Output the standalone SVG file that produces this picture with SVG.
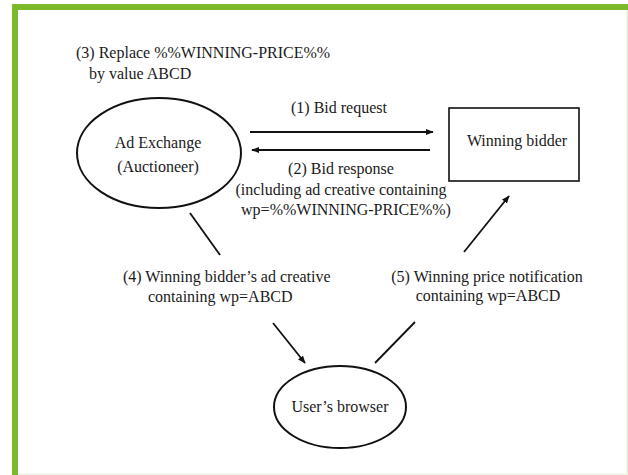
<svg xmlns="http://www.w3.org/2000/svg" width="628" height="475" viewBox="0 0 628 475">
  <style>
    .frame { fill: #7bb82a; }
    .node { fill: none; stroke: #111; stroke-width: 2; }
    .box { fill: none; stroke: #111; stroke-width: 1.6; }
    .lbl { font-family: 'Liberation Serif', 'DejaVu Serif', serif; font-size: 16px; fill: #1a1a1a; }
    .mid { text-anchor: middle; }
    .edge { stroke: #111; stroke-width: 1.8; fill: none; }
  </style>
  <defs>
    <marker id="head" viewBox="0 0 10 10" refX="9" refY="5" markerWidth="8" markerHeight="8" markerUnits="userSpaceOnUse" orient="auto">
      <path d="M0,1 L10,5 L0,9 z" fill="#111"/>
    </marker>
  </defs>

  <rect width="628" height="475" fill="#ffffff"/>
  <!-- page frame -->
  <rect class="frame" x="12" y="4" width="616" height="6"/>
  <rect class="frame" x="12" y="4" width="6" height="471"/>
  <rect x="626.5" y="10" width="1.5" height="465" fill="#e6eed6"/>
  <rect x="18" y="473.5" width="610" height="1.5" fill="#eef3e4"/>

  <!-- step 3 note -->
  <g id="note-replace">
    <text class="lbl" x="76" y="58">(3) Replace %%WINNING-PRICE%%</text>
    <text class="lbl" x="89" y="79">by value ABCD</text>
  </g>

  <g id="ad-exchange">
    <ellipse class="node" cx="159" cy="153" rx="82" ry="55"/>
    <text class="lbl mid" x="158" y="148">Ad Exchange</text>
    <text class="lbl mid" x="158" y="172">(Auctioneer)</text>
  </g>

  <g id="winning-bidder">
    <rect class="box" x="449" y="108" width="130" height="73"/>
    <text class="lbl mid" x="517" y="146">Winning bidder</text>
  </g>

  <g id="users-browser">
    <ellipse class="node" cx="340" cy="407" rx="66" ry="41"/>
    <text class="lbl mid" x="340" y="412">User’s browser</text>
  </g>

  <g id="connectors">
    <line class="edge" x1="250" y1="132" x2="433" y2="132" marker-end="url(#head)"/>
    <line class="edge" x1="430" y1="150" x2="252" y2="150" marker-end="url(#head)"/>
    <line class="edge" x1="190" y1="213" x2="220" y2="255"/>
    <line class="edge" x1="273" y1="323" x2="305" y2="363" marker-end="url(#head)"/>
    <line class="edge" x1="375" y1="363" x2="415" y2="322"/>
    <line class="edge" x1="464" y1="252" x2="509" y2="196" marker-end="url(#head)"/>
  </g>

  <g id="edge-labels">
    <text class="lbl mid" x="339" y="113">(1) Bid request</text>
    <text class="lbl mid" x="341" y="174">(2) Bid response</text>
    <text class="lbl mid" x="341" y="195">(including ad creative containing</text>
    <text class="lbl mid" x="346" y="215">wp=%%WINNING-PRICE%%)</text>
    <text class="lbl" x="123" y="282">(4) Winning bidder’s ad creative</text>
    <text class="lbl" x="148" y="302">containing wp=ABCD</text>
    <text class="lbl mid" x="487" y="282">(5) Winning price notification</text>
    <text class="lbl mid" x="488" y="301">containing wp=ABCD</text>
  </g>
</svg>
